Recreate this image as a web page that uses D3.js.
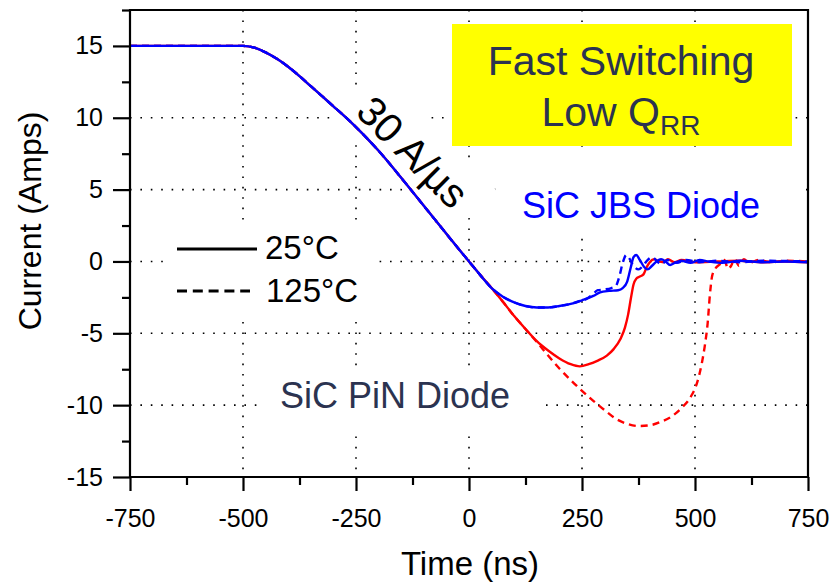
<!DOCTYPE html>
<html>
<head>
<meta charset="utf-8">
<script src="https://cdn.jsdelivr.net/npm/d3@7"></script>
<style>
  html, body { margin: 0; padding: 0; background: #fff; }
  svg { display: block; font-family: "Liberation Sans", Arial, sans-serif; }
</style>
</head>
<body>
<svg id="chart" width="834" height="585"></svg>
<script>
// ---------------- DATA ----------------
const xTicks = [-750, -500, -250, 0, 250, 500, 750];
const yTicks = [-15, -10, -5, 0, 5, 10, 15];
const xMinorTicks = [-625, -375, -125, 125, 375, 625];
const yMinorTicks = [-12.5, -7.5, -2.5, 2.5, 7.5, 12.5, 17.5];

// common turn-off ramp (shared by all four traces)
const rampT = [-750, -700, -650, -600, -550, -500, -475, -450, -425, -400, -375, -350, -325, -300, -275, -250, -225, -200, -175, -150, -125, -100, -75, -50, -25, 0, 25, 50];
const rampI = [15, 15, 15, 15, 15, 15, 14.88, 14.55, 14.1, 13.55, 12.9, 12.2, 11.5, 10.8, 10.1, 9.35, 8.55, 7.7, 6.78, 5.82, 4.85, 3.87, 2.9, 1.92, 0.95, 0, -0.95, -1.85];

// SiC JBS diode, 25 °C (after the common ramp)
const jbs25T = [75, 100, 125, 150, 175, 200, 225, 250, 275, 290, 310, 330, 340, 350, 358, 364, 370, 378, 388, 395, 405, 415, 425, 435, 445, 455, 470, 490, 510, 530, 560, 600, 650, 700, 750];
const jbs25I = [-2.45, -2.85, -3.1, -3.2, -3.2, -3.1, -2.95, -2.7, -2.4, -2.15, -2.05, -2.0, -1.85, -1.4, -0.4, 0.3, 0.45, 0.1, -0.4, -0.55, -0.3, 0.0, 0.15, 0.0, -0.25, -0.1, 0.05, -0.1, 0.1, 0.0, -0.1, 0.05, -0.05, 0.0, -0.05];

// SiC JBS diode, 125 °C
const jbs125T = [75, 100, 125, 150, 175, 200, 225, 250, 260, 275, 285, 300, 315, 325, 333, 340, 348, 355, 362, 375, 385, 395, 405, 415, 425, 440, 460, 480, 510, 550, 600, 650, 750];
const jbs125I = [-2.45, -2.85, -3.1, -3.2, -3.2, -3.1, -2.95, -2.7, -2.6, -2.25, -2.0, -1.95, -1.85, -1.7, -1.0, -0.1, 0.45, 0.2, -0.2, -0.55, -0.3, 0.1, 0.3, 0.05, -0.2, 0.1, -0.1, 0.1, -0.05, 0.05, -0.05, 0.05, 0.0];

// SiC PiN diode, 25 °C
const pin25T = [75, 100, 125, 150, 175, 200, 225, 245, 265, 285, 305, 320, 335, 345, 352, 358, 364, 370, 378, 386, 393, 400, 410, 420, 430, 440, 455, 470, 500, 550, 600, 650, 700, 750];
const pin25I = [-2.8, -3.8, -4.7, -5.55, -6.2, -6.75, -7.15, -7.3, -7.15, -6.9, -6.55, -6.1, -5.4, -4.6, -3.7, -2.6, -1.6, -1.2, -1.05, -0.9, -0.4, -0.05, 0.15, 0.0, -0.05, 0.15, -0.05, 0.1, -0.05, 0.0, 0.05, -0.05, 0.0, -0.05];

// SiC PiN diode, 125 °C
const pin125T = [75, 100, 125, 150, 175, 200, 225, 250, 275, 300, 325, 350, 375, 400, 425, 450, 470, 490, 505, 515, 522, 528, 533, 538, 545, 555, 565, 573, 580, 588, 597, 608, 620, 640, 670, 700, 750];
const pin125I = [-2.8, -3.8, -4.7, -5.6, -6.55, -7.45, -8.25, -9.0, -9.7, -10.35, -10.95, -11.3, -11.45, -11.4, -11.15, -10.75, -10.2, -9.45, -8.4, -7.1, -5.8, -4.3, -2.3, -1.0, -0.5, -0.2, 0.1, -0.5, -0.3, 0.2, -0.3, 0.15, -0.1, 0.1, -0.05, 0.05, 0.0];

const seriesNames = ["PiN 125°C", "PiN 25°C", "JBS 125°C", "JBS 25°C"];
const legendLabels = ["25°C", "125°C"];

// ---------------- LAYOUT ----------------
const svg = d3.select("#chart");
const L = 130, R = 808, T = 10, B = 477;
const x = d3.scaleLinear().domain([-750, 750]).range([L, R]);
const y = d3.scaleLinear().domain([-15, 17.5]).range([B, T]);

function build(tArr, iArr) {
  const pts = rampT.map((t, k) => ({t, v: rampI[k]}));
  tArr.forEach((t, k) => pts.push({t, v: iArr[k]}));
  return pts;
}
const series = [
  {name: seriesNames[0], data: build(pin125T, pin125I), color: "#ff0000", dash: "7,5"},
  {name: seriesNames[1], data: build(pin25T, pin25I), color: "#ff0000", dash: null},
  {name: seriesNames[2], data: build(jbs125T, jbs125I), color: "#0000ff", dash: "7,5"},
  {name: seriesNames[3], data: build(jbs25T, jbs25I), color: "#0000ff", dash: null}
];

// ---------------- GRID ----------------
const grid = svg.append("g");
grid.selectAll("line.gx").data(xTicks.filter(d => d > -750 && d < 750)).enter().append("line")
  .attr("x1", d => x(d)).attr("x2", d => x(d)).attr("y1", T).attr("y2", B)
  .attr("stroke", "#000").attr("stroke-width", 1.6).attr("stroke-dasharray", "1.6,8.8");
grid.selectAll("line.gy").data(yTicks.filter(d => d > -15 && d < 15)).enter().append("line")
  .attr("x1", L).attr("x2", R).attr("y1", d => y(d)).attr("y2", d => y(d))
  .attr("stroke", "#000").attr("stroke-width", 1.6).attr("stroke-dasharray", "1.6,8.8");

// white backgrounds of text boxes that hide the grid
const textFont = '"Liberation Sans", Arial, sans-serif';
svg.append("rect").attr("x", 165).attr("y", 222).attr("width", 213).attr("height", 96).attr("fill", "#fff");
svg.append("rect").attr("x", 262).attr("y", 366).attr("width", 283).attr("height", 68).attr("fill", "#fff");
svg.append("rect").attr("x", 500).attr("y", 150).attr("width", 306).attr("height", 84).attr("fill", "#fff");
svg.append("g").attr("transform", "translate(413,152) rotate(45)")
  .append("rect").attr("x", -86).attr("y", -32).attr("width", 172).attr("height", 66).attr("fill", "#fff");

// yellow box
svg.append("rect").attr("x", 452).attr("y", 24).attr("width", 340).attr("height", 122).attr("fill", "#ffff00");

// ---------------- CURVES ----------------
const line = d3.line().x(d => x(d.t)).y(d => y(d.v)).curve(d3.curveMonotoneX);
svg.append("g").selectAll("path").data(series).enter().append("path")
  .attr("d", d => line(d.data))
  .attr("fill", "none")
  .attr("stroke", d => d.color)
  .attr("stroke-width", 2.4)
  .attr("stroke-linejoin", "round")
  .attr("stroke-dasharray", d => d.dash);

// ---------------- AXES ----------------
const ax = svg.append("g").attr("stroke", "#000").attr("stroke-width", 2.2);
ax.append("line").attr("x1", L).attr("x2", L).attr("y1", T - 1).attr("y2", B + 1);
ax.append("line").attr("x1", R).attr("x2", R).attr("y1", T - 1).attr("y2", B + 1);
ax.append("line").attr("x1", L - 1).attr("x2", R + 1).attr("y1", T).attr("y2", T);
ax.append("line").attr("x1", L - 1).attr("x2", R + 1).attr("y1", B).attr("y2", B);

const fmt = d => String(d);
const xAxis = d3.axisBottom(x).tickValues(xTicks).tickSize(14).tickSizeOuter(0).tickPadding(18).tickFormat(fmt);
const gx = svg.append("g").attr("transform", `translate(0,${B})`).call(xAxis);
gx.select(".domain").remove();
gx.selectAll(".tick line").attr("stroke-width", 2.2);
gx.selectAll(".tick text").attr("font-size", 25).attr("font-family", textFont).attr("fill", "#000");
const gxm = svg.append("g").attr("transform", `translate(0,${B})`)
  .call(d3.axisBottom(x).tickValues(xMinorTicks).tickSize(8).tickFormat(""));
gxm.select(".domain").remove();
gxm.selectAll(".tick line").attr("stroke-width", 2.2);

const yAxis = d3.axisLeft(y).tickValues(yTicks).tickSize(17).tickSizeOuter(0).tickPadding(10).tickFormat(fmt);
const gy = svg.append("g").attr("transform", `translate(${L},0)`).call(yAxis);
gy.select(".domain").remove();
gy.selectAll(".tick line").attr("stroke-width", 2.2);
gy.selectAll(".tick text").attr("font-size", 25).attr("font-family", textFont).attr("fill", "#000");
const gym = svg.append("g").attr("transform", `translate(${L},0)`)
  .call(d3.axisLeft(y).tickValues(yMinorTicks).tickSize(8).tickFormat(""));
gym.select(".domain").remove();
gym.selectAll(".tick line").attr("stroke-width", 2.2);

// axis titles
svg.append("text").attr("x", 470).attr("y", 575).attr("text-anchor", "middle")
  .attr("font-size", 33).attr("font-family", textFont).attr("fill", "#000").text("Time (ns)");
svg.append("text").attr("transform", "translate(41,221) rotate(-90)").attr("text-anchor", "middle")
  .attr("font-size", 32).attr("font-family", textFont).attr("fill", "#000").text("Current (Amps)");

// ---------------- ANNOTATIONS ----------------
const navy = "#2b3350";
svg.append("text").attr("x", 621).attr("y", 75).attr("text-anchor", "middle")
  .attr("font-size", 41).attr("font-family", textFont).attr("fill", navy).text("Fast Switching");
const q = svg.append("text").attr("x", 621).attr("y", 126).attr("text-anchor", "middle")
  .attr("font-size", 41).attr("font-family", textFont).attr("fill", navy);
q.append("tspan").text("Low Q");
q.append("tspan").attr("font-size", 28).attr("dy", 9).text("RR");

svg.append("text").attr("transform", "translate(413,152) rotate(45)").attr("text-anchor", "middle")
  .attr("dy", "0.35em").attr("font-size", 41).attr("font-family", textFont).attr("fill", "#000").text("30 A/µs");

svg.append("text").attr("x", 522).attr("y", 218).attr("font-size", 36)
  .attr("font-family", textFont).attr("fill", "#0000ff").text("SiC JBS Diode");
svg.append("text").attr("x", 280).attr("y", 408).attr("font-size", 36)
  .attr("font-family", textFont).attr("fill", navy).text("SiC PiN Diode");

// legend
const lg = svg.append("g");
lg.append("line").attr("x1", 177).attr("x2", 257).attr("y1", 249).attr("y2", 249)
  .attr("stroke", "#000").attr("stroke-width", 3);
lg.append("line").attr("x1", 177).attr("x2", 250).attr("y1", 291).attr("y2", 291)
  .attr("stroke", "#000").attr("stroke-width", 3).attr("stroke-dasharray", "10,5.8");
lg.append("text").attr("x", 265).attr("y", 259).attr("font-size", 33)
  .attr("font-family", textFont).attr("fill", "#000").text(legendLabels[0]);
lg.append("text").attr("x", 266).attr("y", 302).attr("font-size", 33)
  .attr("font-family", textFont).attr("fill", "#000").text(legendLabels[1]);
</script>
</body>
</html>
